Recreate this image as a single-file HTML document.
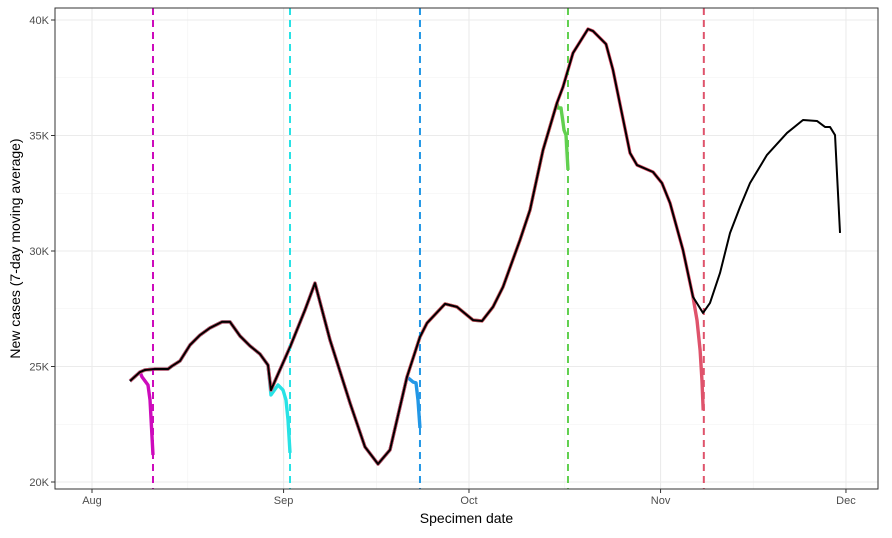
<!DOCTYPE html>
<html><head><meta charset="utf-8"><style>
body{margin:0;background:#fff;font-family:"Liberation Sans",sans-serif}
svg text{font-family:"Liberation Sans",sans-serif}
</style></head><body>
<svg id="chart" width="892" height="533" xmlns="http://www.w3.org/2000/svg"></svg>
<script>
const xTickLabels=["Aug","Sep","Oct","Nov","Dec"];
const xTickDays=[0,31,61,92,122];
const yTicks=[20,25,30,35,40];
const blackDays=[6.15,7.77,8.58,10.19,12.30,12.94,14.24,15.86,17.48,19.09,21.04,22.33,23.95,25.57,27.18,28.48,28.96,32.04,34.47,36.08,38.51,41.75,44.17,46.28,48.22,50.97,53.07,54.21,57.12,59.06,61.65,63.11,64.89,66.50,69.26,70.87,72.98,75.24,76.21,77.83,80.26,81.07,83.17,84.30,87.06,88.19,90.78,92.23,93.53,95.63,97.25,98.87,100.00,101.62,103.24,104.85,106.47,109.22,112.46,115.05,117.31,118.61,119.42,120.23,121.04];
const blackVals=[24.37,24.76,24.85,24.89,24.89,25.02,25.24,25.93,26.36,26.67,26.93,26.93,26.32,25.89,25.54,25.06,23.98,25.84,27.45,28.61,26.15,23.42,21.52,20.78,21.39,24.55,26.28,26.88,27.71,27.58,27.01,26.97,27.58,28.44,30.48,31.77,34.37,36.41,37.10,38.57,39.61,39.52,38.96,37.84,34.24,33.72,33.42,32.94,32.08,30.04,28.01,27.32,27.75,29.05,30.78,31.90,32.94,34.16,35.11,35.67,35.63,35.37,35.37,35.02,30.78];
const magentaDays=[8.09,9.06,9.39,9.87];const magentaVals=[24.55,24.20,23.55,21.17];
const cyanDays=[28.96,30.10,30.91,31.39,31.72,32.04];const cyanVals=[23.77,24.20,23.98,23.55,22.68,21.26];
const blueDays=[51.94,52.43,52.75,53.07];const blueVals=[24.33,24.29,23.55,22.34];
const greenDays=[75.40,75.89,76.38,76.70,77.02];const greenVals=[36.19,36.19,35.24,35.02,33.51];
const redDays=[97.9,98.4,98.7,98.9];const redVals=[27.0,25.7,24.4,23.1];
const cutoffDays=[9.87,32.04,53.07,77.02,99.0];
const seriesNames=["magenta","cyan","blue","green","red"];
const colors=["#CD0BBC","#28E2E5","#2297E6","#61D04F","#DF536B"];
const NS="http://www.w3.org/2000/svg";const svg=document.getElementById('chart');
const L=55,R=878,T=8,B=489;
const x=d=>92+d*6.18;const y=v=>20+(40-v)*23.1;
function el(t,a,p){const e=document.createElementNS(NS,t);for(const k in a)e.setAttribute(k,a[k]);(p||svg).appendChild(e);return e;}
const bg=el('rect',{x:L,y:T,width:R-L,height:B-T,fill:'#fff'});


for(let i=0;i<xTickDays.length-1;i++){const m=(xTickDays[i]+xTickDays[i+1])/2;const g=el('line',{x1:x(m),x2:x(m),y1:T,y2:B,stroke:'#f0f0f0','stroke-width':0.6});}
for(let i=0;i<yTicks.length-1;i++){const m=(yTicks[i]+yTicks[i+1])/2;const g=el('line',{x1:L,x2:R,y1:y(m),y2:y(m),stroke:'#f0f0f0','stroke-width':0.6});}
xTickDays.forEach((d,i)=>{const g=el('line',{x1:x(d),x2:x(d),y1:T,y2:B,stroke:'#ebebeb','stroke-width':1.1});
el('line',{x1:x(d),x2:x(d),y1:B,y2:B+4,stroke:'#333'});
const t=el('text',{x:x(d),y:B+15,'text-anchor':'middle','font-size':11,fill:'#4d4d4d'});t.textContent=xTickLabels[i];});
yTicks.forEach(v=>{const g=el('line',{x1:L,x2:R,y1:y(v),y2:y(v),stroke:'#ebebeb','stroke-width':1.1});
el('line',{x1:L-4,x2:L,y1:y(v),y2:y(v),stroke:'#333'});
const t=el('text',{x:L-6,y:y(v)+4,'text-anchor':'end','font-size':11,fill:'#4d4d4d'});t.textContent=v+'K';});
const tails=[[magentaDays,magentaVals],[cyanDays,cyanVals],[blueDays,blueVals],[greenDays,greenVals],[redDays,redVals]];
[3,2,0,1,4].forEach(i=>{const pts=[];blackDays.forEach((d,j)=>{if(d<tails[i][0][0])pts.push(x(d)+','+y(blackVals[j]));});
tails[i][0].forEach((d,j)=>pts.push(x(d)+','+y(tails[i][1][j])));
const p=el('polyline',{points:pts.join(' '),fill:'none',stroke:colors[i],'stroke-width':3.4,'stroke-linejoin':'round'});

});
cutoffDays.forEach((d,i)=>{const l=el('line',{x1:x(d),x2:x(d),y1:T,y2:B,stroke:colors[i],'stroke-width':2,'stroke-dasharray':'7,5'});

});
const pb=[];blackDays.forEach((d,j)=>pb.push(x(d)+','+y(blackVals[j])));
const bl=el('polyline',{points:pb.join(' '),fill:'none',stroke:'#000','stroke-width':2,'stroke-linejoin':'round'});


const br=el('rect',{x:L,y:T,width:R-L,height:B-T,fill:'none',stroke:'#333','stroke-width':1});


const xt=el('text',{x:(L+R)/2,y:523,'text-anchor':'middle','font-size':14,fill:'#000'});xt.textContent='Specimen date';


const yt=el('text',{x:0,y:0,transform:'translate(20,'+((T+B)/2)+') rotate(-90)','text-anchor':'middle','font-size':14,fill:'#000'});yt.textContent='New cases (7-day moving average)';


</script>
</body></html>
